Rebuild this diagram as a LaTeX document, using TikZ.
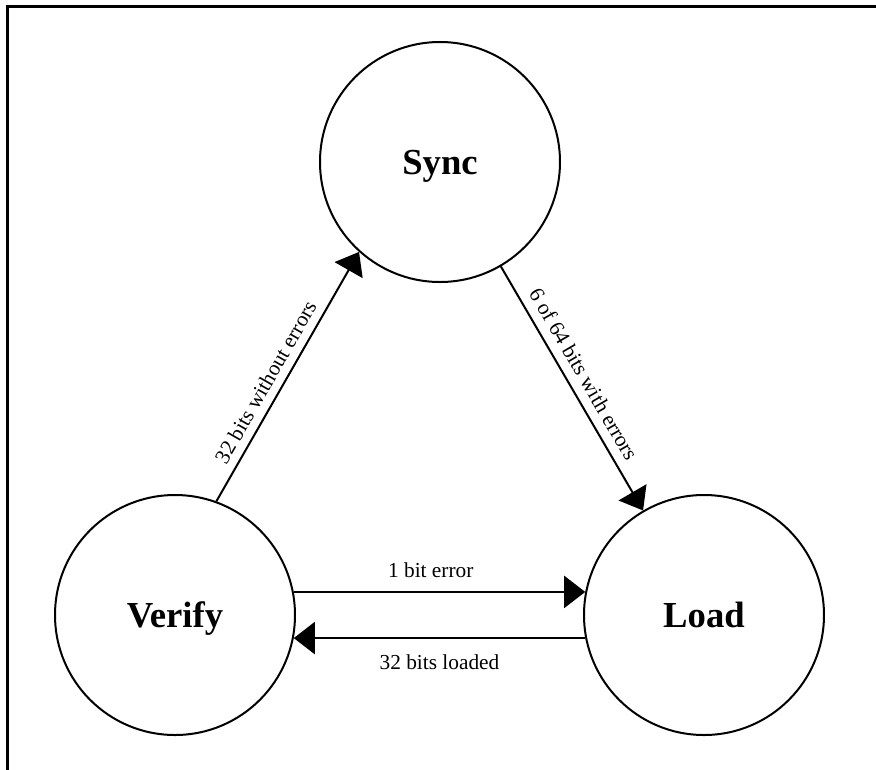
\documentclass[tikz,border=0pt]{standalone}
\usepackage{fontspec}
\setmainfont{Liberation Serif}
\usetikzlibrary{arrows.meta}
\begin{document}
\begin{tikzpicture}[x=0.75pt,y=-0.75pt,
  state/.style={circle, draw, line width=1.5pt, minimum size=180pt, inner sep=0pt,
    font=\fontsize{27.5}{30}\selectfont\bfseries, text depth=0pt},
  trans/.style={line width=1.5pt, -{Triangle[length=15.75pt,width=24pt]}},
  lbl/.style={font=\fontsize{16}{19}\selectfont, inner sep=0pt}]
\useasboundingbox (0,0) rectangle (876,769);
\clip (0,0) rectangle (876,769);
\draw[line width=2.25pt] (7.5,790) -- (7.5,6.5) -- (890,6.5);
\node[state] (sync) at (440,162) {Sync};
\node[state] (verify) at (175,615) {Verify};
\node[state] (load) at (704,615) {Load};
\draw[trans] (verify.70.7) -- node[lbl, pos=0.445, sloped, yshift=12.4pt] {32 bits without errors} (sync.228);
\draw[trans] (sync) -- node[lbl, pos=0.477, sloped, yshift=13.1pt] {6 of 64 bits with errors} (load);
\draw[trans] (verify.11) -- node[lbl, pos=0.47, yshift=16.5pt] {1 bit error} (load.169);
\draw[trans] (load.-169) -- node[lbl, pos=0.5, yshift=-18pt] {32 bits loaded} (verify.-11);
\end{tikzpicture}
\end{document}
